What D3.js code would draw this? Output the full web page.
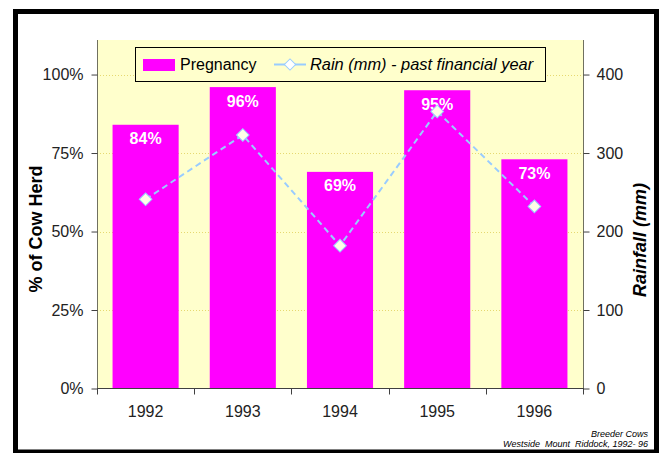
<!DOCTYPE html>
<html><head><meta charset="utf-8">
<script src="https://cdn.jsdelivr.net/npm/d3@7"></script>
<style>body{margin:0;background:#fff;}svg{display:block;font-family:Arial,"Liberation Sans",sans-serif;}</style>
</head><body>
<svg id="c" width="665" height="453"></svg>
<script>
const years = ["1992","1993","1994","1995","1996"];
const pregnancy = [0.84, 0.96, 0.69, 0.95, 0.73];
const rain = [241, 323, 182, 353, 232];
const leftTicks = [0, 0.25, 0.5, 0.75, 1.0];
const rightTicks = [0, 100, 200, 300, 400];

const svg = d3.select("#c");
const L = 97, R = 583, T = 40, B = 388.5;
const FONT = "Arial,'Liberation Sans',sans-serif";

// outer frame
svg.append("rect").attr("x",0).attr("y",0).attr("width",665).attr("height",453).attr("fill","#fff");
svg.append("rect").attr("x",15.5).attr("y",11.5).attr("width",641).attr("height",440.5)
  .attr("fill","none").attr("stroke","#000").attr("stroke-width",5);

const x = d3.scaleBand().domain(years).range([L,R]).paddingInner(0.32).paddingOuter(0.16);
const xb = d3.scaleBand().domain(years).range([L,R]);
const y = d3.scaleLinear().domain([0,1.11]).range([B,T]);
const y2 = d3.scaleLinear().domain([0,444]).range([B,T]);

// plot bg
svg.append("rect").attr("x",L).attr("y",T).attr("width",R-L).attr("height",B-T).attr("fill","#FFFFCC");

// gridlines
svg.append("g").selectAll("line").data(leftTicks.filter(d=>d>0)).join("line")
  .attr("x1",L).attr("x2",R).attr("y1",d=>Math.round(y(d))+0.5).attr("y2",d=>Math.round(y(d))+0.5)
  .attr("stroke","#E6D970").attr("stroke-width",1).attr("stroke-dasharray","1,2");

// bars
svg.append("g").selectAll("rect").data(years).join("rect")
  .attr("x",d=>x(d)).attr("width",x.bandwidth())
  .attr("y",(d,i)=>y(pregnancy[i])).attr("height",(d,i)=>B-y(pregnancy[i]))
  .attr("fill","#FF00FF");

svg.append("g").selectAll("text").data(years).join("text")
  .attr("x",d=>x(d)+x.bandwidth()/2).attr("y",(d,i)=>y(pregnancy[i])+19.5)
  .attr("text-anchor","middle").attr("fill","#fff").attr("font-weight","bold").attr("font-size",16)
  .text((d,i)=>Math.round(pregnancy[i]*100)+"%");

// rain line
const line = d3.line().x((d,i)=>xb(years[i])+xb.bandwidth()/2).y(d=>y2(d));
svg.append("path").datum(rain).attr("d",line).attr("fill","none")
  .attr("stroke","#99CCFF").attr("stroke-width",2).attr("stroke-dasharray","6,4");
svg.append("g").selectAll("path").data(rain).join("path")
  .attr("transform",(d,i)=>`translate(${xb(years[i])+xb.bandwidth()/2},${y2(d)}) rotate(45)`)
  .attr("d",d3.symbol().type(d3.symbolSquare).size(80))
  .attr("fill","#FFFFE8").attr("stroke","#99CCFF").attr("stroke-width",1);

// axes lines
svg.append("line").attr("x1",L+0.5).attr("x2",L+0.5).attr("y1",T).attr("y2",B).attr("stroke","#707060");
svg.append("line").attr("x1",R+0.5).attr("x2",R+0.5).attr("y1",T).attr("y2",B).attr("stroke","#707060");
svg.append("line").attr("x1",L).attr("x2",R+1).attr("y1",B).attr("y2",B).attr("stroke","#404040");

// left axis
const ga = svg.append("g").attr("transform",`translate(${L+0.5},0)`)
  .call(d3.axisLeft(y).tickValues(leftTicks).tickFormat(d3.format(".0%")).tickSizeOuter(0).tickSize(5).tickPadding(9));
ga.select(".domain").remove();
ga.selectAll(".tick line").attr("x2",0).attr("x1",-6).attr("stroke","#404040");
ga.selectAll("text").attr("font-size",16).attr("fill","#222").attr("font-family",FONT);

// right axis
const gr = svg.append("g").attr("transform",`translate(${R+0.5},0)`)
  .call(d3.axisRight(y2).tickValues(rightTicks).tickSizeOuter(0).tickSize(6).tickPadding(7));
gr.select(".domain").remove();
gr.selectAll(".tick line").attr("x1",0).attr("x2",6).attr("stroke","#404040");
gr.selectAll("text").attr("font-size",16).attr("fill","#222").attr("font-family",FONT);

// x axis
const gx = svg.append("g").attr("transform",`translate(0,${B})`)
  .call(d3.axisBottom(xb).tickSize(0).tickPadding(17));
gx.select(".domain").remove();
gx.selectAll("text").attr("font-size",16).attr("fill","#222").attr("font-family",FONT);
svg.append("g").selectAll("line").data(years.concat(["end"])).join("line")
  .attr("x1",(d,i)=>Math.round(L+i*xb.step())+0.5).attr("x2",(d,i)=>Math.round(L+i*xb.step())+0.5)
  .attr("y1",B).attr("y2",B+6).attr("stroke","#404040");

// axis titles
svg.append("text").attr("transform",`translate(42,229) rotate(-90)`)
  .attr("text-anchor","middle").attr("font-weight","bold").attr("font-size",18).text("% of Cow Herd");
svg.append("text").attr("transform",`translate(646,240) rotate(-90)`)
  .attr("text-anchor","middle").attr("font-weight","bold").attr("font-style","italic").attr("font-size",18).text("Rainfall (mm)");

// legend
const lg = svg.append("g");
lg.append("rect").attr("x",135.5).attr("y",47.5).attr("width",410).attr("height",34).attr("fill","#FFFFCC").attr("stroke","#000");
lg.append("rect").attr("x",143).attr("y",59).attr("width",32).attr("height",12).attr("fill","#FF00FF");
lg.append("text").attr("x",180).attr("y",70).attr("font-size",16).text("Pregnancy");
lg.append("line").attr("x1",274).attr("x2",306).attr("y1",64.5).attr("y2",64.5).attr("stroke","#99CCFF").attr("stroke-width",2);
lg.append("path").attr("transform","translate(290,64.5) rotate(45)").attr("d",d3.symbol().type(d3.symbolSquare).size(64))
  .attr("fill","#fff").attr("stroke","#99CCFF");
lg.append("text").attr("x",310).attr("y",70).attr("font-size",16.4).attr("font-style","italic").text("Rain (mm) - past financial year");

// notes
svg.append("text").attr("x",648).attr("y",437).attr("text-anchor","end").attr("font-size",9).attr("font-style","italic").text("Breeder Cows");
svg.append("text").attr("x",648).attr("y",447).attr("text-anchor","end").attr("font-size",9).attr("font-style","italic").attr("xml:space","preserve").text("Westside  Mount  Riddock, 1992- 96");
</script>
</body></html>
